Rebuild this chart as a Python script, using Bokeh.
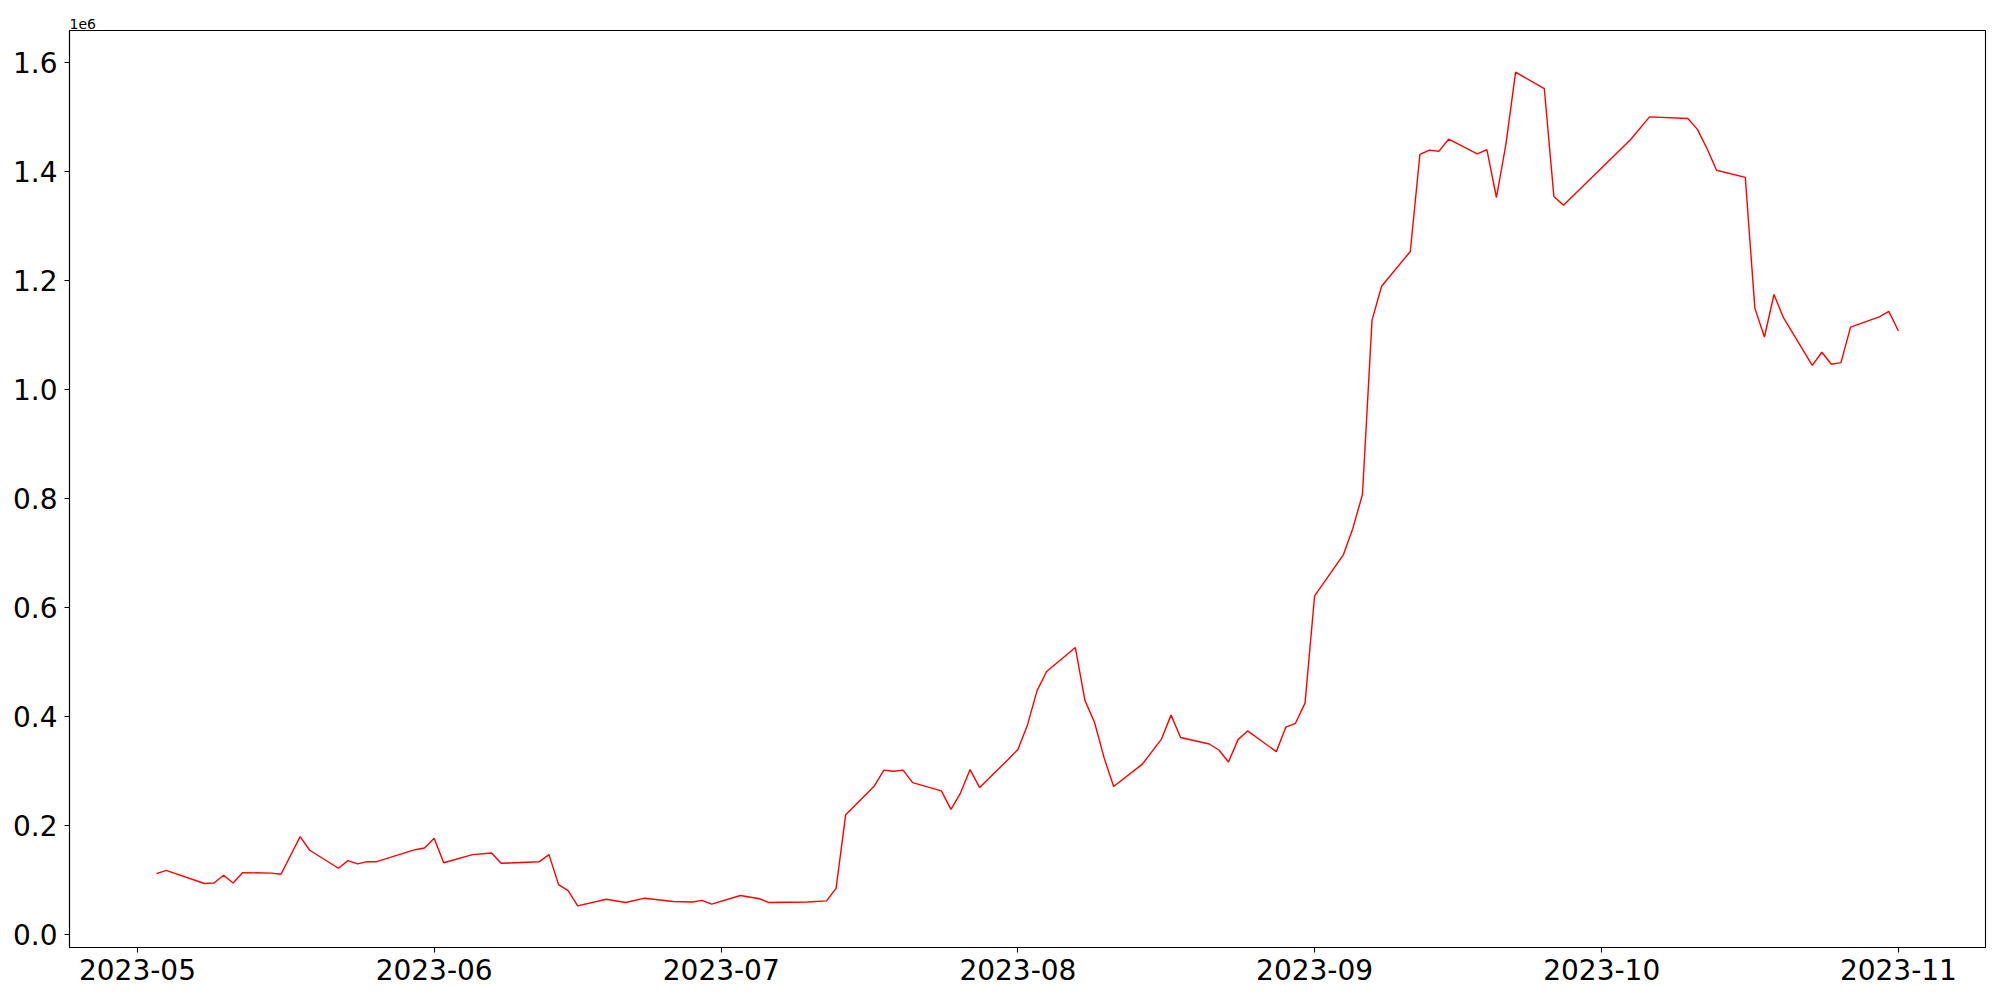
import pandas as pd
from bokeh.plotting import figure
from bokeh.models import (ColumnDataSource, Range1d, FixedTicker, DatetimeTickFormatter,
                          CustomJSTickFormatter)
from bokeh.embed import file_html
from bokeh.resources import INLINE

dates = [
    "2023-05-03", "2023-05-04", "2023-05-08", "2023-05-09", "2023-05-10", "2023-05-11", "2023-05-12",
    "2023-05-15", "2023-05-16", "2023-05-18", "2023-05-19", "2023-05-22", "2023-05-23", "2023-05-24",
    "2023-05-25", "2023-05-26", "2023-05-30", "2023-05-31", "2023-06-01", "2023-06-02", "2023-06-05",
    "2023-06-07", "2023-06-08", "2023-06-12", "2023-06-13", "2023-06-14", "2023-06-15", "2023-06-16",
    "2023-06-19", "2023-06-21", "2023-06-23", "2023-06-26", "2023-06-28", "2023-06-29", "2023-06-30",
    "2023-07-03", "2023-07-05", "2023-07-06", "2023-07-10", "2023-07-12", "2023-07-13", "2023-07-14",
    "2023-07-17", "2023-07-18", "2023-07-19", "2023-07-20", "2023-07-21", "2023-07-24", "2023-07-25",
    "2023-07-26", "2023-07-27", "2023-07-28", "2023-07-31", "2023-08-01", "2023-08-02", "2023-08-03",
    "2023-08-04", "2023-08-07", "2023-08-08", "2023-08-09", "2023-08-10", "2023-08-11", "2023-08-14",
    "2023-08-16", "2023-08-17", "2023-08-18", "2023-08-21", "2023-08-22", "2023-08-23", "2023-08-24",
    "2023-08-25", "2023-08-28", "2023-08-29", "2023-08-30", "2023-08-31", "2023-09-01", "2023-09-04",
    "2023-09-05", "2023-09-06", "2023-09-07", "2023-09-08", "2023-09-11", "2023-09-12", "2023-09-13",
    "2023-09-14", "2023-09-15", "2023-09-18", "2023-09-19", "2023-09-20", "2023-09-21", "2023-09-22",
    "2023-09-25", "2023-09-26", "2023-09-27", "2023-10-04", "2023-10-06", "2023-10-10", "2023-10-11",
    "2023-10-12", "2023-10-13", "2023-10-16", "2023-10-17", "2023-10-18", "2023-10-19", "2023-10-20",
    "2023-10-23", "2023-10-24", "2023-10-25", "2023-10-26", "2023-10-27", "2023-10-30", "2023-10-31",
    "2023-11-01",
]

values = [
    111000, 117000, 93000, 94000, 108000, 94000, 113000,
    112000, 110000, 179000, 154000, 121000, 135000, 129000,
    133000, 133000, 155000, 158000, 176000, 131000, 146000,
    149000, 130000, 133000, 146000, 91000, 80000, 52000,
    64000, 58000, 66000, 60000, 59000, 62000, 55000,
    71000, 65000, 58000, 59000, 61000, 84000, 219000,
    272000, 301000, 299000, 301000, 278000, 263000, 229000,
    259000, 302000, 269000, 321000, 339000, 384000, 447000,
    482000, 526000, 429000, 389000, 324000, 271000, 312000,
    358000, 402000, 361000, 349000, 338000, 316000, 357000,
    373000, 335000, 380000, 387000, 424000, 621000, 696000,
    745000, 807000, 1127000, 1189000, 1253000, 1431000, 1439000,
    1437000, 1459000, 1432000, 1440000, 1352000, 1451000, 1582000,
    1552000, 1354000, 1338000, 1458000, 1500000, 1497000, 1477000,
    1442000, 1402000, 1389000, 1149000, 1096000, 1174000, 1131000,
    1044000, 1068000, 1046000, 1049000, 1114000, 1133000, 1143000,
    1107000,
]

month_ticks = ["2023-05", "2023-06", "2023-07", "2023-08", "2023-09", "2023-10", "2023-11"]
y_ticks = [0, 200000, 400000, 600000, 800000, 1000000, 1200000, 1400000, 1600000]

x = pd.to_datetime(dates)
src = ColumnDataSource(dict(x=x, y=values))

# matplotlib-like 5% autoscale margins
xmin, xmax = x.min(), x.max()
xpad = (xmax - xmin) * 0.05
ymin, ymax = min(values), max(values)
ypad = (ymax - ymin) * 0.05

FONT = "DejaVu Sans"

p = figure(width=2000, height=1000, x_axis_type="datetime",
           output_backend="svg", toolbar_location=None,
           x_range=Range1d(xmin - xpad, xmax + xpad),
           y_range=Range1d(ymin - ypad, ymax + ypad),
           min_border_left=69, min_border_right=15,
           min_border_top=30, min_border_bottom=53)

p.line("x", "y", source=src, line_color="red", line_width=1.4)

p.xgrid.visible = False
p.ygrid.visible = False
p.outline_line_color = "black"
p.outline_line_width = 1.1
p.outline_line_alpha = 1.0
p.background_fill_color = "white"
p.border_fill_color = "white"

tick_ms = [pd.Timestamp(m + "-01").value // 10**6 for m in month_ticks]
p.xaxis.ticker = FixedTicker(ticks=tick_ms)
fmt = "%Y-%m"
p.xaxis.formatter = DatetimeTickFormatter(
    milliseconds=fmt, seconds=fmt, minsec=fmt, minutes=fmt, hourmin=fmt,
    hours=fmt, days=fmt, months=fmt, years=fmt)

p.yaxis.ticker = FixedTicker(ticks=y_ticks)
p.yaxis.formatter = CustomJSTickFormatter(code="return (tick/1e6).toFixed(1);")

for ax in (p.xaxis[0], p.yaxis[0]):
    ax.axis_line_color = "black"
    ax.axis_line_width = 1.1
    ax.major_tick_line_color = "black"
    ax.major_tick_line_width = 1.1
    ax.major_tick_out = 5
    ax.major_tick_in = 0
    ax.minor_tick_line_color = None
    ax.major_label_text_font = FONT
    ax.major_label_text_font_size = "28px"
    ax.major_label_text_color = "black"

p.xaxis.major_label_standoff = 6
p.yaxis.major_label_standoff = 7

# offset text of the y axis ("1e6"), as matplotlib draws it above the frame
p.title.text = "1e6"
p.title.align = "left"
p.title.text_font = FONT
p.title.text_font_size = "14px"
p.title.text_font_style = "normal"
p.title.text_color = "black"
p.title.standoff = 3
p.title.offset = 0

open("out.html", "w").write(file_html(p, INLINE))
